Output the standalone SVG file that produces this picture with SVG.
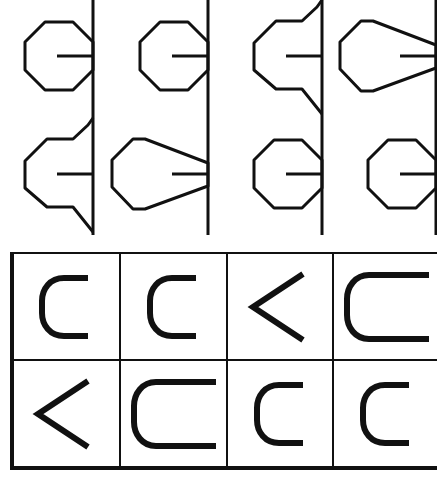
<svg xmlns="http://www.w3.org/2000/svg" xmlns:xlink="http://www.w3.org/1999/xlink" width="437" height="486" viewBox="0 0 437 486">
  <style>
    .thin { fill: none; stroke: #111; stroke-width: 3; stroke-linejoin: round; stroke-linecap: butt; }
    .bar { fill: none; stroke: #111; stroke-width: 3; }
    .glyph { fill: none; stroke: #111; stroke-width: 6; stroke-linecap: butt; stroke-linejoin: miter; }
    .grid { fill: none; stroke: #111; stroke-width: 2; }
    .frame { fill: none; stroke: #111; stroke-width: 4; }
  </style>
  <defs>
    <g id="oct">
      <polygon class="thin" points="-48,-34 -20,-34 0,-14 0,14 -20,34 -48,34 -68,14 -68,-14"/>
      <path class="thin" d="M-36,0 H0"/>
    </g>
    <g id="bell">
      <path class="thin" d="M0,-56 L-5,-49 L-20,-35 H-46 L-68,-13 V14 L-46,33 H-20 L0,58"/>
      <path class="thin" d="M-36,0 H0"/>
    </g>
    <g id="tear">
      <polygon class="thin" points="-96,-14 -75,-35 -63,-35 0,-11 0,12 -63,35 -75,35 -96,13"/>
      <path class="thin" d="M-36,0 H0"/>
    </g>
    <path id="c" class="glyph" d="M76,-29 H52 C38,-29 30,-18 30,-6 V6 C30,18 38,29 52,29 H76"/>
    <polyline id="lt" class="glyph" points="76,-33 26,0 76,33"/>
    <path id="wc" class="glyph" d="M96,-32 H36 C22,-32 14,-20 14,-8 V8 C14,20 22,32 36,32 H96"/>
  </defs>
  <rect width="437" height="486" fill="#fff"/>

  <g id="top-panel">
    <g id="stems">
      <path class="bar" d="M93,0 V235 M208,0 V235 M322,0 V235 M436,0 V235"/>
    </g>
    <g id="col1">
      <use xlink:href="#oct" x="93" y="56"/>
      <use xlink:href="#bell" x="93" y="174"/>
    </g>
    <g id="col2">
      <use xlink:href="#oct" x="208" y="56"/>
      <use xlink:href="#tear" x="208" y="174"/>
    </g>
    <g id="col3">
      <use xlink:href="#bell" x="322" y="56"/>
      <use xlink:href="#oct" x="322" y="174"/>
    </g>
    <g id="col4">
      <use xlink:href="#tear" x="436" y="56"/>
      <use xlink:href="#oct" x="436" y="174"/>
    </g>
  </g>

  <g id="answer-grid">
    <g id="grid-lines">
      <path class="grid" d="M10,253 H437 M12,360 H437 M120,253 V468 M227,253 V468 M333,253 V468"/>
      <path class="frame" d="M12,252 V470 M10,468 H437"/>
    </g>
    <g id="row1">
      <use xlink:href="#c" x="12" y="307"/>
      <use xlink:href="#c" x="120" y="307"/>
      <use xlink:href="#lt" x="227" y="307"/>
      <use xlink:href="#wc" x="333" y="307"/>
    </g>
    <g id="row2">
      <use xlink:href="#lt" x="12" y="414"/>
      <use xlink:href="#wc" x="120" y="414"/>
      <use xlink:href="#c" x="227" y="414"/>
      <use xlink:href="#c" x="333" y="414"/>
    </g>
  </g>
</svg>
